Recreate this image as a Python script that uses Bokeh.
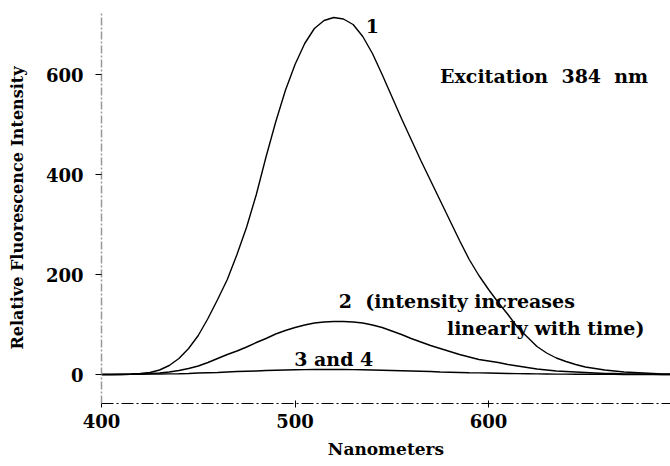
from bokeh.plotting import figure
from bokeh.models import Range1d, FixedTicker, Label
from bokeh.embed import file_html
from bokeh.resources import INLINE

# wavelength grid (nm)
nm = [400, 405, 410, 415, 420, 425, 430, 435, 440, 445, 450, 455, 460, 465, 470, 475,
      480, 485, 490, 495, 500, 505, 510, 515, 520, 525, 530, 535, 540, 545, 550, 555,
      560, 565, 570, 575, 580, 585, 590, 595, 600, 605, 610, 615, 620, 625, 630, 635,
      640, 645, 650, 655, 660, 665, 670, 675, 680, 685, 690, 695]

curve1 = [0, 0, 0.5, 1, 2, 4, 9, 18, 32, 52, 78, 112, 150, 190, 240, 295,
          360, 435, 505, 568, 620, 662, 692, 708, 714, 711, 700, 676, 642, 600, 556, 512,
          470, 428, 388, 348, 308, 268, 230, 198, 170, 144, 120, 94, 75, 56, 43, 33,
          26, 20, 15, 12, 9, 7, 5, 4, 3, 2, 1, 1]

curve2 = [0, 0, 0, 0.5, 1, 2, 3, 5, 8, 12, 17, 24, 32, 40, 47, 55,
          64, 72, 81, 88, 94, 99, 103, 105, 106, 106, 105, 103, 99, 94, 87, 80,
          72, 65, 58, 52, 46, 40, 35, 30, 27, 24, 20, 17, 14, 11, 9, 7,
          6, 5, 4, 3, 2, 2, 1, 1, 1, 0.5, 0, 0]

curve34 = [0, 0, 0, 0.2, 0.5, 0.8, 1, 1.2, 1.5, 2, 3, 3.5, 4, 5, 6, 6.5,
           7, 8, 8.5, 9, 9.5, 9.8, 10, 10, 10, 10, 9.8, 9.5, 9, 8.5, 8, 7.5,
           7, 6.5, 6, 5, 4.5, 4, 3.5, 3.2, 3, 2.5, 2, 1.8, 1.5, 1.2, 1, 0.8,
           0.7, 0.6, 0.5, 0.4, 0.3, 0.2, 0.1, 0, 0, 0, 0, 0]

x_ticks = [400, 500, 600]
y_ticks = [0, 200, 400, 600]

FONT = "DejaVu Serif"
NB = "\u00a0"

p = figure(width=670, height=466, output_backend="svg", toolbar_location=None,
           x_range=Range1d(400, 694), y_range=Range1d(-58, 724),
           min_border_left=101, min_border_right=0, min_border_top=12, min_border_bottom=63)
p.outline_line_color = None
p.grid.visible = False
p.background_fill_color = "white"

for ys in (curve1, curve2, curve34):
    p.line(nm, ys, line_color="black", line_width=1.4)

# axes
p.xaxis.ticker = FixedTicker(ticks=x_ticks)
p.yaxis.ticker = FixedTicker(ticks=y_ticks)
p.xaxis.minor_tick_line_color = None
p.yaxis.minor_tick_line_color = None

p.yaxis.axis_line_color = "#999999"
p.yaxis.axis_line_dash = "8 2 2 2"
p.yaxis.axis_line_width = 1.5
p.yaxis.major_tick_line_color = "black"
p.yaxis.major_tick_out = 6
p.yaxis.major_tick_in = 0
p.yaxis.major_label_standoff = 12
p.yaxis.axis_label = "Relative Fluorescence Intensity"
p.yaxis.axis_label_standoff = 16

p.xaxis.axis_line_color = "black"
p.xaxis.axis_line_dash = "12 3 2 3"
p.xaxis.axis_line_width = 1.2
p.xaxis.major_tick_line_color = "black"
p.xaxis.major_tick_out = 4
p.xaxis.major_tick_in = 3
p.xaxis.major_label_standoff = 6
p.xaxis.axis_label = "Nanometers"
p.xaxis.axis_label_standoff = 8

for ax in (p.xaxis, p.yaxis):
    ax.major_label_text_font = FONT
    ax.major_label_text_font_style = "bold"
    ax.major_label_text_font_size = "18px"
    ax.major_label_text_color = "black"
    ax.axis_label_text_font = FONT
    ax.axis_label_text_font_style = "bold"
    ax.axis_label_text_color = "black"
p.yaxis.axis_label_text_font_size = "16px"
p.xaxis.axis_label_text_font_size = "17px"

def note(x, y, t):
    p.add_layout(Label(x=x, y=y, text=t, text_font=FONT, text_font_style="bold",
                       text_font_size="19px", text_color="black",
                       text_baseline="middle", text_align="center"))

note(540, 698, "1")
note(628.7, 598, "Excitation" + NB + NB + "384" + NB + NB + "nm")
note(583.6, 148, "2" + NB + NB + "(intensity increases")
note(629.5, 94, "linearly with time)")
note(520, 32, "3 and 4")

open("out.html", "w").write(file_html(p, INLINE))
